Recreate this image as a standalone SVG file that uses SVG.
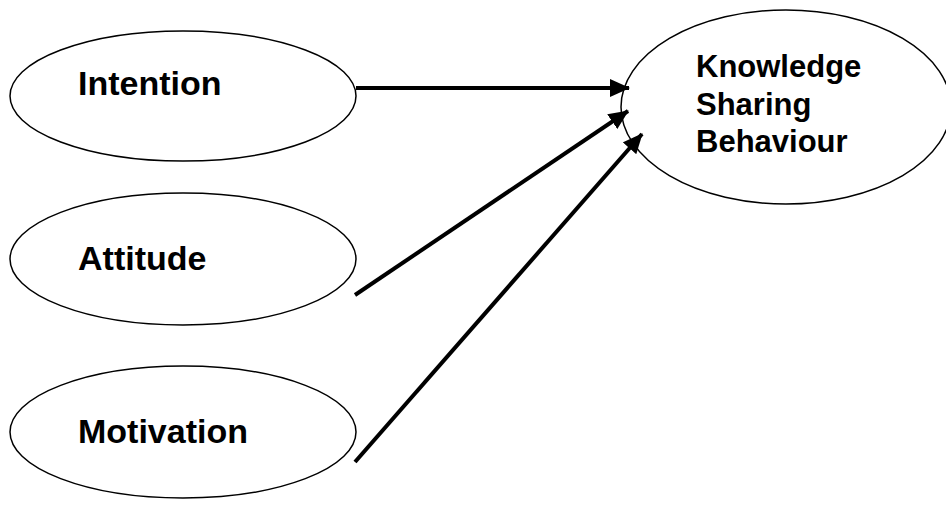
<svg xmlns="http://www.w3.org/2000/svg" width="946" height="517" viewBox="0 0 946 517">
<style>
.node ellipse{fill:#fff;stroke:#000;stroke-width:1.5}
.lbl{font-family:"Liberation Sans",Arial,sans-serif;font-weight:bold;fill:#000}
.big{font-size:34px}
.mid{font-size:31px}
.edge{stroke:#000;stroke-width:4;fill:none}
</style>
<defs>
<marker id="ah" markerWidth="20" markerHeight="18" refX="19" refY="9" orient="auto" markerUnits="userSpaceOnUse">
<path d="M0,0 L20,9 L0,18 z" fill="#000"/>
</marker>
</defs>
<rect width="946" height="517" fill="#fff"/>
<g id="intention" class="node">
<ellipse cx="183" cy="96" rx="173" ry="65"/>
<text class="lbl big" x="78" y="95">Intention</text>
</g>
<g id="attitude" class="node">
<ellipse cx="183" cy="259" rx="173" ry="66"/>
<text class="lbl big" x="78" y="270">Attitude</text>
</g>
<g id="motivation" class="node">
<ellipse cx="183" cy="432" rx="173" ry="66"/>
<text class="lbl big" x="78" y="443">Motivation</text>
</g>
<g id="ksb" class="node">
<ellipse cx="786" cy="107" rx="165" ry="97"/>
<text class="lbl mid" x="696" y="77">Knowledge</text>
<text class="lbl mid" x="696" y="115">Sharing</text>
<text class="lbl mid" x="696" y="152">Behaviour</text>
</g>
<g id="connectors">
<line class="edge" x1="356" y1="88" x2="629" y2="88" marker-end="url(#ah)"/>
<line class="edge" x1="355" y1="295" x2="628" y2="111" marker-end="url(#ah)"/>
<line class="edge" x1="355" y1="462" x2="642" y2="134" marker-end="url(#ah)"/>
</g>
</svg>
